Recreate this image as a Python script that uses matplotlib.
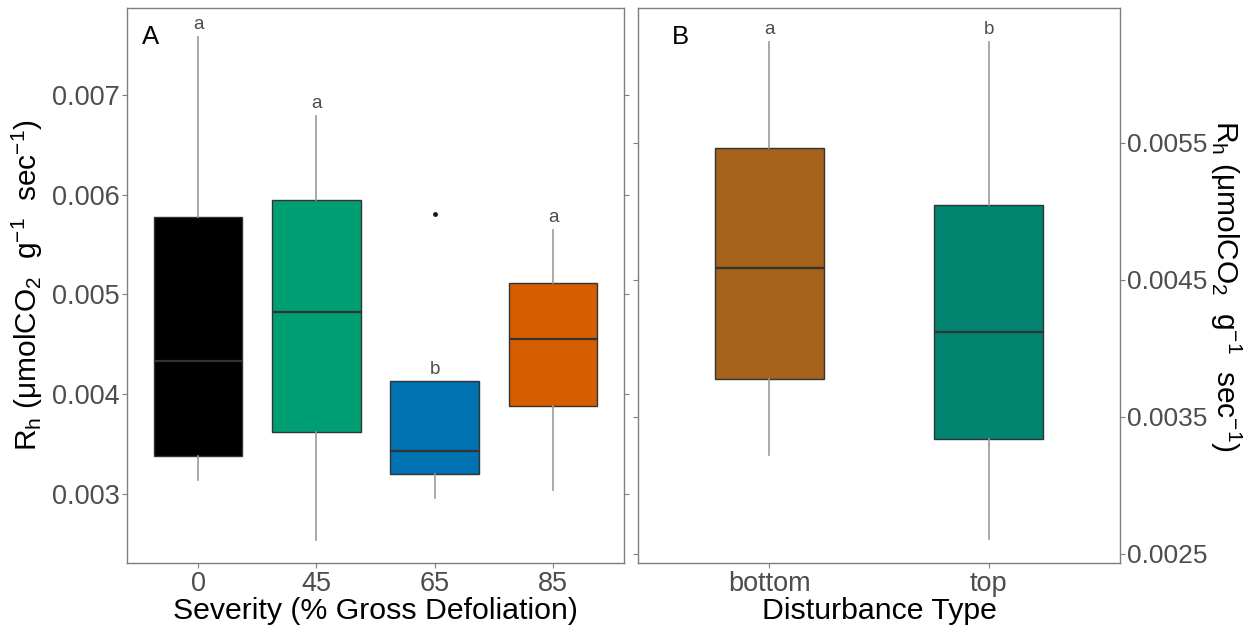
import matplotlib
matplotlib.use("Agg")
import matplotlib.pyplot as plt

plt.rcParams["font.family"] = ["Liberation Sans", "DejaVu Sans"]
plt.rcParams["mathtext.fontset"] = "custom"
plt.rcParams["mathtext.rm"] = "Liberation Sans"
plt.rcParams["mathtext.it"] = "Liberation Sans:italic"

# Panel A: heterotrophic respiration by defoliation severity
severity = ["0", "45", "65", "85"]
sev_whislo = [0.00314, 0.00254, 0.00296, 0.00304]
sev_q1 = [0.00338, 0.00362, 0.00320, 0.00388]
sev_med = [0.00433, 0.00482, 0.00343, 0.00455]
sev_q3 = [0.00578, 0.00595, 0.00413, 0.00512]
sev_whishi = [0.00758, 0.00679, 0.00413, 0.00565]
sev_fliers = [[], [], [0.00581], []]
sev_letters = ["a", "a", "b", "a"]
sev_colors = ["#000000", "#009E73", "#0072B2", "#D55E00"]

# Panel B: heterotrophic respiration by disturbance type
disturbance = ["bottom", "top"]
dist_whislo = [0.00322, 0.00261]
dist_q1 = [0.00378, 0.00334]
dist_med = [0.00459, 0.00412]
dist_q3 = [0.00546, 0.00505]
dist_whishi = [0.00624, 0.00624]
dist_fliers = [[], []]
dist_letters = ["a", "b"]
dist_colors = ["#A6611A", "#018571"]

sev_yticks = [0.003, 0.004, 0.005, 0.006, 0.007]
dist_yticks = [0.0025, 0.0035, 0.0045, 0.0055]

ylabel = r"R$_\mathregular{h}$ ($\mathregular{\mu}$molCO$_\mathregular{2}$  g$^\mathregular{-1}$  sec$^\mathregular{-1}$)"

W, H = 1253, 627
fig = plt.figure(figsize=(W / 100, H / 100), dpi=100)
axA = fig.add_axes([127 / W, 1 - 563 / H, (624 - 127) / W, (563 - 8) / H])
axB = fig.add_axes([638 / W, 1 - 563 / H, (1120 - 638) / W, (563 - 8) / H])

frame_col = "#7F7F7F"
tick_col = "#4D4D4D"
whisk_col = "#999999"
edge_col = "#333333"


def draw_panel(ax, labels, lo, q1, med, q3, hi, fliers, colors, letters, width):
    stats = []
    for i, lab in enumerate(labels):
        stats.append(dict(label=lab, whislo=lo[i], q1=q1[i], med=med[i],
                          q3=q3[i], whishi=hi[i], fliers=fliers[i]))
    pos = list(range(1, len(labels) + 1))
    bp = ax.bxp(stats, positions=pos, widths=width, patch_artist=True,
                showcaps=False,
                boxprops=dict(edgecolor=edge_col, linewidth=1.0),
                medianprops=dict(color=edge_col, linewidth=1.6),
                whiskerprops=dict(color=whisk_col, linewidth=1.2),
                flierprops=dict(marker="o", markersize=2.5,
                                markerfacecolor="#1a1a1a",
                                markeredgecolor="#1a1a1a"))
    for patch, c in zip(bp["boxes"], colors):
        patch.set_facecolor(c)
        patch.set_zorder(2)
    for m in bp["medians"]:
        m.set_zorder(3)
    for i, let in enumerate(letters):
        ax.annotate(let, (pos[i], hi[i]), xytext=(0, 2.5),
                    textcoords="offset points", ha="center", va="bottom",
                    fontsize=13.5, color=tick_col)
    ax.set_xlim(0.4, len(labels) + 0.6)
    for s in ax.spines.values():
        s.set_color(frame_col)
        s.set_linewidth(1.0)
    ax.tick_params(axis="both", colors=frame_col, labelcolor=tick_col,
                   length=3.5, width=0.8, labelsize=19.5)
    ax.tick_params(axis="x", pad=2)
    ax.tick_params(axis="y", pad=1.5)


draw_panel(axA, severity, sev_whislo, sev_q1, sev_med, sev_q3, sev_whishi,
           sev_fliers, sev_colors, sev_letters, 0.75)
axA.set_ylim(0.00231, 0.00787)
axA.set_yticks(sev_yticks)
axA.set_yticklabels([f"{v:.3f}" for v in sev_yticks])
axA.tick_params(axis="y", right=True, labelright=False)
axA.set_xlabel("Severity (% Gross Defoliation)", fontsize=21.8, labelpad=0)
axA.set_ylabel(ylabel, fontsize=21.5, labelpad=5)
axA.text(0.03, 0.97, "A", transform=axA.transAxes, fontsize=18.5,
         ha="left", va="top")

draw_panel(axB, disturbance, dist_whislo, dist_q1, dist_med, dist_q3,
           dist_whishi, dist_fliers, dist_colors, dist_letters, 0.5)
axB.set_ylim(0.002434, 0.006485)
axB.set_yticks(dist_yticks)
axB.set_yticklabels([f"{v:.4f}" for v in dist_yticks])
axB.tick_params(axis="y", left=True, right=True, labelleft=False,
                labelright=True, labelsize=19)
axB.set_xlabel("Disturbance Type", fontsize=21.8, labelpad=0)
axB.yaxis.set_label_position("right")
axB.set_ylabel(ylabel, fontsize=21.5, rotation=-90, labelpad=26)
axB.text(0.07, 0.97, "B", transform=axB.transAxes, fontsize=18.5,
         ha="left", va="top")

fig.savefig("out.png", dpi=100)
